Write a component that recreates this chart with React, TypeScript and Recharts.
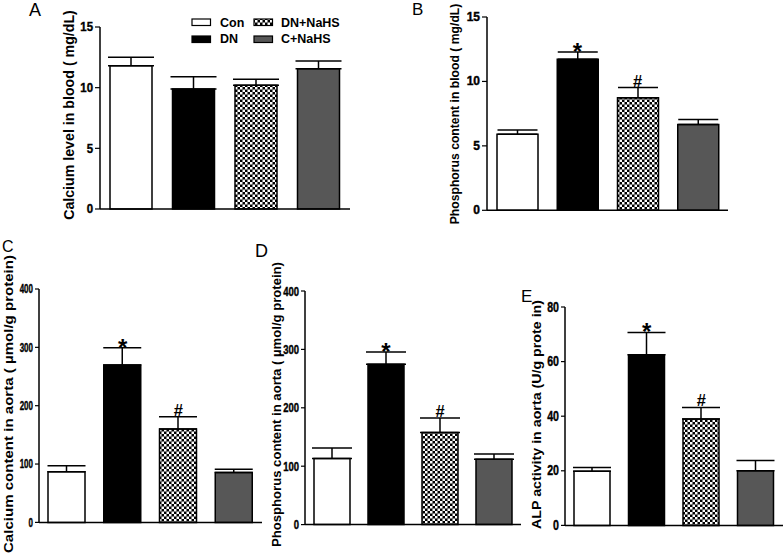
import React from 'react';
import { BarChart, Bar, XAxis, YAxis, ErrorBar, Cell, ReferenceDot } from 'recharts';

// ---- data ----
const categories = ['Con', 'DN', 'DN+NaHS', 'C+NaHS'];

const caBlood = [11.8, 9.9, 10.2, 11.55];
const caBloodErr = [0.7, 1.0, 0.5, 0.65];
const caBloodSig = ['', '', '', ''];

const pBlood = [5.9, 11.72, 8.74, 6.65];
const pBloodErr = [0.33, 0.56, 0.78, 0.39];
const pBloodSig = ['', '*', '#', ''];

const caAorta = [86.9, 269.7, 160, 85.7];
const caAortaErr = [10.1, 29.7, 21, 5.2];
const caAortaSig = ['', '*', '#', ''];

const pAorta = [113, 274.5, 157.5, 111.8];
const pAortaErr = [18.2, 21.1, 25.1, 9.2];
const pAortaSig = ['', '*', '#', ''];

const alpAorta = [19.8, 62.5, 39, 20];
const alpAortaErr = [1.45, 8.2, 4.2, 3.8];
const alpAortaSig = ['', '*', '#', ''];

const ticks15 = [0, 5, 10, 15];
const ticks400 = [0, 100, 200, 300, 400];
const ticks80 = [0, 20, 40, 60, 80];

const fills = ['#ffffff', '#000000', 'url(#checker)', '#575757'];

const FONT = 'Liberation Sans, Arial, Helvetica, sans-serif';

type PanelCfg = {
  values: number[];
  errs: number[];
  sig: string[];
  domain: [number, number];
  ticks: number[];
  left: number;
  right: number;
  top: number;
  bottom: number;
  barSize: number;
  tickFont: number;
  tickScale: number;
  tickSize: number;
  capWidth: number;
};

const makeTick = (fs: number, sx: number) => (props: any) => {
  const { x, y, payload } = props;
  return (
    <g transform={`translate(${x},${y})`}>
      <text
        transform={`scale(${sx},1)`}
        textAnchor="end"
        dominantBaseline="central"
        fontSize={fs}
        fontWeight="bold"
        fontFamily={FONT}
        fill="#000"
        stroke="#000"
        strokeWidth={0.4}
      >
        {payload.value}
      </text>
    </g>
  );
};

const sigLabel = (value: string) => (props: any) => {
  const vb = props.viewBox || {};
  const cx = vb.x + (vb.width || 0) / 2;
  const y = vb.y;
  const isStar = value === '*';
  return (
    <text
      x={cx}
      y={isStar ? y + 8 : y - 1}
      textAnchor="middle"
      fontSize={isStar ? 24 : 16.5}
      fontWeight="bold"
      fontFamily={FONT}
      fill="#000"
    >
      {value}
    </text>
  );
};

const Panel = ({ cfg }: { cfg: PanelCfg }) => {
  const AXW = 60;
  const TOPM = 30;
  const XH = 10;
  const data = categories.map((c, i) => ({
    name: c,
    value: cfg.values[i],
    err: [0, cfg.errs[i]],
    top: cfg.values[i] + cfg.errs[i],
    sig: cfg.sig[i],
  }));
  const width = cfg.right - cfg.left + AXW + 4;
  const height = cfg.bottom - cfg.top + TOPM + XH;
  return (
    <div style={{ position: 'absolute', left: cfg.left - AXW, top: cfg.top - TOPM }}>
      <BarChart
        width={width}
        height={height}
        data={data}
        margin={{ top: TOPM, left: 0, right: 4, bottom: 0 }}
        barCategoryGap={0}
      >
        <XAxis
          dataKey="name"
          tick={false}
          tickLine={false}
          height={XH}
          axisLine={{ stroke: '#000', strokeWidth: 1.5 }}
        />
        <YAxis
          type="number"
          domain={cfg.domain}
          ticks={cfg.ticks}
          width={AXW}
          interval={0}
          tickSize={cfg.tickSize}
          tickMargin={2}
          axisLine={{ stroke: '#000', strokeWidth: 1.5 }}
          tickLine={{ stroke: '#000', strokeWidth: 1.2 }}
          tick={makeTick(cfg.tickFont, cfg.tickScale)}
        />
        <Bar dataKey="value" barSize={cfg.barSize} stroke="#000" strokeWidth={1.5} isAnimationActive={false}>
          {data.map((d, i) => (
            <Cell key={d.name} fill={fills[i]} />
          ))}
          <ErrorBar dataKey="err" width={cfg.capWidth} stroke="#000" strokeWidth={1.5} direction="y" />
        </Bar>
        {data
          .filter((d) => d.sig)
          .map((d) => (
            <ReferenceDot
              key={d.name}
              x={d.name}
              y={d.top}
              r={0}
              fill="none"
              stroke="none"
              label={sigLabel(d.sig)}
            />
          ))}
      </BarChart>
    </div>
  );
};

const panelA: PanelCfg = {
  values: caBlood, errs: caBloodErr, sig: caBloodSig, domain: [0, 15], ticks: ticks15,
  left: 100, right: 350, top: 27, bottom: 209, barSize: 42, tickFont: 13, tickScale: 0.88, tickSize: 5, capWidth: 23,
};
const panelB: PanelCfg = {
  values: pBlood, errs: pBloodErr, sig: pBloodSig, domain: [0, 15], ticks: ticks15,
  left: 487, right: 728, top: 16.7, bottom: 210, barSize: 41, tickFont: 12, tickScale: 1, tickSize: 5, capWidth: 20,
};
const panelC: PanelCfg = {
  values: caAorta, errs: caAortaErr, sig: caAortaSig, domain: [0, 400], ticks: ticks400,
  left: 39, right: 262, top: 289.3, bottom: 522.7, barSize: 37, tickFont: 12.5, tickScale: 0.64, tickSize: 4, capWidth: 19,
};
const panelD: PanelCfg = {
  values: pAorta, errs: pAortaErr, sig: pAortaSig, domain: [0, 400], ticks: ticks400,
  left: 305, right: 521, top: 290.7, bottom: 524.3, barSize: 36, tickFont: 12.5, tickScale: 0.76, tickSize: 4, capWidth: 20,
};
const panelE: PanelCfg = {
  values: alpAorta, errs: alpAortaErr, sig: alpAortaSig, domain: [0, 80], ticks: ticks80,
  left: 565, right: 783, top: 307.3, bottom: 525.7, barSize: 36, tickFont: 14, tickScale: 0.76, tickSize: 4, capWidth: 19,
};

const yLabels = [
  { text: 'Calcium level in blood ( mg/dL)', x: 74, cy: 115, len: 0, fs: 14.2 },
  { text: 'Phosphorus content in blood ( mg/dL)', x: 459, cy: 114, len: 0, fs: 12.2 },
  { text: 'Calcium content in aorta ( \u00b5mol/g protein)', x: 13, cy: 404, len: 298, fs: 13 },
  { text: 'Phosphorus content in aorta ( \u00b5mol/g protein)', x: 280.5, cy: 404.5, len: 285, fs: 12.5 },
  { text: 'ALP activity in aorta (U/g prote in)', x: 541, cy: 414.5, len: 229, fs: 12 },
];

const letters = [
  { t: 'A', x: 29, y: 16, fs: 18 },
  { t: 'B', x: 412, y: 15, fs: 17 },
  { t: 'C', x: 2, y: 252, fs: 16 },
  { t: 'D', x: 255, y: 257, fs: 18 },
  { t: 'E', x: 521, y: 302, fs: 17 },
];

const legendItems = [
  { name: categories[0], fill: fills[0], x: 192, y: 19, tx: 220, ty: 27 },
  { name: categories[1], fill: fills[1], x: 192, y: 36, tx: 220, ty: 43 },
  { name: categories[2], fill: fills[2], x: 254, y: 19, tx: 281, ty: 27 },
  { name: categories[3], fill: fills[3], x: 254, y: 36, tx: 281, ty: 43 },
];

export default function App() {
  return (
    <div
      style={{
        position: 'absolute',
        left: 0,
        top: 0,
        width: 783,
        height: 555,
        overflow: 'hidden',
        background: '#fff',
        fontFamily: FONT,
      }}
    >
      <svg width={0} height={0} style={{ position: 'absolute' }}>
        <defs>
          <pattern id="checker" width={5} height={5} patternUnits="userSpaceOnUse">
            <rect width={5} height={5} fill="#000" />
            <rect x={0} y={0} width={2.5} height={2.5} fill="#fff" />
            <rect x={2.5} y={2.5} width={2.5} height={2.5} fill="#fff" />
          </pattern>
        </defs>
      </svg>
      <Panel cfg={panelA} />
      <Panel cfg={panelB} />
      <Panel cfg={panelC} />
      <Panel cfg={panelD} />
      <Panel cfg={panelE} />
      <svg
        width={783}
        height={555}
        style={{ position: 'absolute', left: 0, top: 0, pointerEvents: 'none' }}
      >
        {letters.map((l) => (
          <text key={l.t} x={l.x} y={l.y} fontSize={l.fs} fontFamily={FONT} fill="#000">
            {l.t}
          </text>
        ))}
        {yLabels.map((l) => (
          <text
            key={l.text}
            transform={`translate(${l.x},${l.cy}) rotate(-90)`}
            textAnchor="middle"
            fontSize={l.fs}
            fontWeight="bold"
            fontFamily={FONT}
            {...(l.len ? { textLength: l.len, lengthAdjust: 'spacingAndGlyphs' } : {})}
            fill="#000"
          >
            {l.text}
          </text>
        ))}
        {legendItems.map((it) => (
          <g key={it.name}>
            <rect x={it.x} y={it.y} width={18.5} height={6.5} fill={it.fill} stroke="#000" strokeWidth={1.2} />
            <text x={it.tx} y={it.ty} fontSize={12.5} fontWeight="bold" fontFamily={FONT} fill="#000">
              {it.name}
            </text>
          </g>
        ))}
      </svg>
    </div>
  );
}
